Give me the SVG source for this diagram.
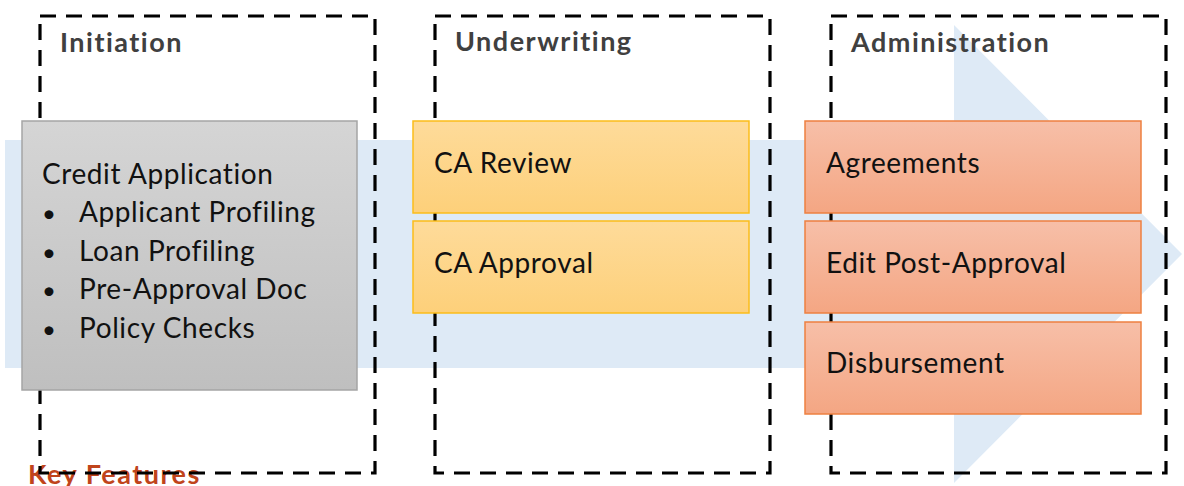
<svg xmlns="http://www.w3.org/2000/svg" width="1184" height="486" viewBox="0 0 1184 486">
<defs>
<linearGradient id="gGrey" x1="0" y1="0" x2="0" y2="1"><stop offset="0" stop-color="#d5d5d5"/><stop offset="1" stop-color="#bfbfbf"/></linearGradient>
<linearGradient id="gYel" x1="0" y1="0" x2="0" y2="1"><stop offset="0" stop-color="#fedb9a"/><stop offset="1" stop-color="#fdd07a"/></linearGradient>
<linearGradient id="gOra" x1="0" y1="0" x2="0" y2="1"><stop offset="0" stop-color="#f7bfa8"/><stop offset="1" stop-color="#f4a683"/></linearGradient>
<style>
.phase{fill:none;stroke:#000;stroke-width:3.2;stroke-dasharray:16 10}
.title{font-family:Lato,"Open Sans",sans-serif;font-weight:bold;font-size:27px;letter-spacing:1.5px;fill:#404040}
.body{font-family:Lato,"Open Sans",sans-serif;font-size:28px;letter-spacing:0.6px;fill:#111}
.bul{font-family:Lato,"Open Sans",sans-serif;font-size:24px;fill:#111}
.grey{fill:url(#gGrey);stroke:#a5a5a5;stroke-width:1.5}
.yel{fill:url(#gYel);stroke:#fbbd1a;stroke-width:1.5}
.ora{fill:url(#gOra);stroke:#ee8040;stroke-width:1.5}
</style>
</defs>
<rect width="1184" height="486" fill="#fff"/>
<path id="flow-arrow" d="M5 140 H954 V25 L1182 254 L954 483 V368 H5 Z" fill="#deeaf6"/>
<text x="28" y="484" font-family="Lato,'Open Sans',sans-serif" font-weight="bold" font-size="27" letter-spacing="1.5" fill="#c0441b">Key Features</text>
<g id="phase-initiation">
<rect class="phase" x="40" y="16" width="335" height="457"/>
<text class="title" x="60" y="52">Initiation</text>
</g>
<g id="phase-underwriting">
<rect class="phase" x="435" y="16" width="335" height="457"/>
<text class="title" x="455" y="51">Underwriting</text>
</g>
<g id="phase-administration">
<rect class="phase" x="831" y="16" width="335" height="457"/>
<text class="title" x="851" y="52">Administration</text>
</g>
<g id="connectors"/>
<g id="credit-application">
<rect class="grey" x="22" y="121" width="335" height="269"/>
<text class="body" x="42" y="184">Credit Application</text>
<text class="bul" x="42" y="222">•</text><text class="body" x="79" y="222">Applicant Profiling</text>
<text class="bul" x="42" y="261">•</text><text class="body" x="79" y="261">Loan Profiling</text>
<text class="bul" x="42" y="299">•</text><text class="body" x="79" y="299">Pre-Approval Doc</text>
<text class="bul" x="42" y="338">•</text><text class="body" x="79" y="338">Policy Checks</text>
</g>
<g id="ca-review">
<rect class="yel" x="413" y="121" width="336" height="92"/>
<text class="body" x="434" y="173">CA Review</text>
</g>
<g id="ca-approval">
<rect class="yel" x="413" y="221" width="336" height="92"/>
<text class="body" x="434" y="273">CA Approval</text>
</g>
<g id="agreements">
<rect class="ora" x="805" y="121" width="336" height="92"/>
<text class="body" x="826" y="173">Agreements</text>
</g>
<g id="edit-post-approval">
<rect class="ora" x="805" y="221" width="336" height="92"/>
<text class="body" x="826" y="273">Edit Post-Approval</text>
</g>
<g id="disbursement">
<rect class="ora" x="805" y="322" width="336" height="92"/>
<text class="body" x="826" y="373">Disbursement</text>
</g>
</svg>
